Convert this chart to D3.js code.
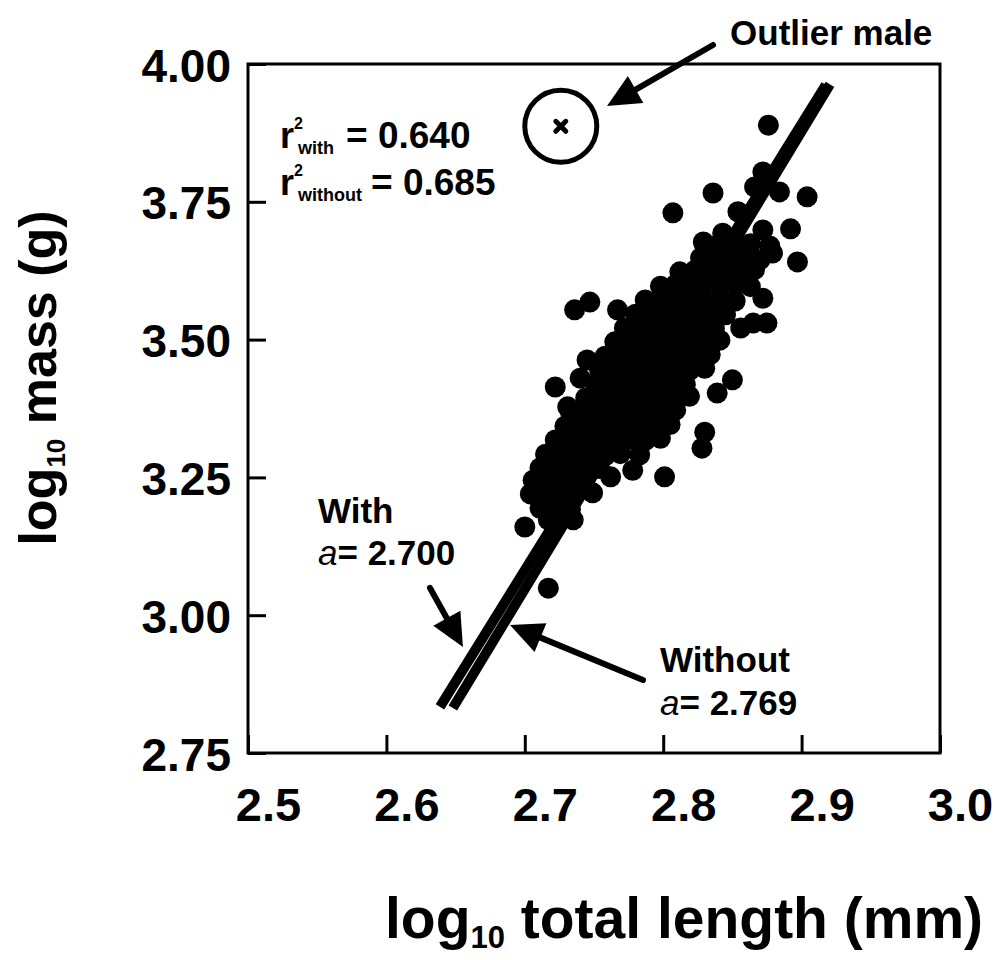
<!DOCTYPE html>
<html><head><meta charset="utf-8">
<script src="https://cdn.jsdelivr.net/npm/d3@7"></script>
<style>
html,body{margin:0;padding:0;background:#fff;}
svg text{font-family:"Liberation Sans",Arial,Helvetica,sans-serif;font-weight:bold;fill:#000;}
</style></head>
<body>
<svg id="chart" width="994" height="960"></svg>
<script>
// ---- data (log10 total length mm, log10 mass g) ----
const xTickValues = [2.5, 2.6, 2.7, 2.8, 2.9, 3.0];
const xTickLabels = ["2.5", "2.6", "2.7", "2.8", "2.9", "3.0"];
const yTickValues = [2.75, 3.00, 3.25, 3.50, 3.75, 4.00];
const yTickLabels = ["2.75", "3.00", "3.25", "3.50", "3.75", "4.00"];

const fishPoints = [
  [2.876,3.889],[2.872,3.804],[2.866,3.777],[2.884,3.768],[2.904,3.759],[2.836,3.766],[2.807,3.730],[2.854,3.732],
  [2.829,3.677],[2.843,3.693],[2.872,3.699],[2.892,3.701],
  [2.830,3.670],[2.841,3.675],[2.852,3.668],[2.863,3.674],[2.877,3.670],[2.879,3.657],
  [2.827,3.648],[2.837,3.652],[2.848,3.646],[2.859,3.650],[2.870,3.645],[2.897,3.641],
  [2.812,3.623],[2.823,3.626],[2.834,3.620],[2.845,3.625],[2.856,3.621],[2.866,3.627],
  [2.798,3.597],[2.809,3.600],[2.819,3.594],[2.830,3.598],[2.841,3.595],[2.852,3.600],[2.863,3.596],
  [2.787,3.572],[2.798,3.575],[2.809,3.570],[2.819,3.574],[2.830,3.569],[2.841,3.573],[2.852,3.570],[2.872,3.575],[2.736,3.554],[2.747,3.568],
  [2.780,3.546],[2.791,3.549],[2.801,3.544],[2.812,3.548],[2.823,3.543],[2.834,3.547],[2.845,3.545],[2.767,3.554],
  [2.772,3.521],[2.783,3.524],[2.794,3.519],[2.805,3.523],[2.816,3.518],[2.827,3.522],[2.837,3.520],[2.856,3.521],[2.865,3.530],[2.875,3.530],
  [2.765,3.496],[2.776,3.499],[2.787,3.494],[2.798,3.498],[2.809,3.493],[2.819,3.497],[2.830,3.495],[2.841,3.499],
  [2.758,3.470],[2.769,3.473],[2.780,3.468],[2.791,3.472],[2.801,3.467],[2.812,3.471],[2.823,3.469],[2.834,3.473],[2.745,3.463],
  [2.754,3.445],[2.765,3.448],[2.776,3.443],[2.787,3.447],[2.798,3.442],[2.809,3.446],[2.819,3.444],[2.830,3.448],
  [2.751,3.419],[2.762,3.422],[2.772,3.417],[2.783,3.421],[2.794,3.416],[2.805,3.420],[2.816,3.418],[2.839,3.403],[2.850,3.427],[2.722,3.414],[2.740,3.430],
  [2.744,3.394],[2.754,3.397],[2.765,3.392],[2.776,3.396],[2.787,3.391],[2.798,3.395],[2.809,3.393],[2.819,3.397],
  [2.733,3.369],[2.744,3.372],[2.754,3.367],[2.765,3.371],[2.776,3.366],[2.787,3.370],[2.798,3.368],[2.809,3.372],[2.731,3.378],
  [2.729,3.343],[2.740,3.346],[2.751,3.341],[2.762,3.345],[2.772,3.340],[2.783,3.344],[2.794,3.342],[2.805,3.346],[2.830,3.332],
  [2.722,3.318],[2.733,3.321],[2.744,3.316],[2.754,3.320],[2.765,3.315],[2.776,3.319],[2.787,3.317],[2.798,3.321],
  [2.715,3.292],[2.725,3.295],[2.736,3.290],[2.747,3.294],[2.758,3.289],[2.769,3.293],[2.783,3.291],[2.828,3.303],
  [2.711,3.267],[2.722,3.270],[2.733,3.265],[2.744,3.269],[2.754,3.266],[2.778,3.263],[2.801,3.251],
  [2.706,3.245],[2.717,3.248],[2.728,3.243],[2.738,3.247],[2.762,3.251],
  [2.704,3.220],[2.711,3.223],[2.722,3.218],[2.733,3.222],[2.749,3.222],
  [2.711,3.194],[2.722,3.197],[2.733,3.192],
  [2.717,3.173],[2.735,3.173],
  [2.700,3.160],[2.717,3.049]
];

const outlierMale = [2.726, 3.887];

// regression lines: [start, end] in data units
const lineWith    = [[2.6387, 2.8335], [2.9175, 3.9620]];
const lineWithout = [[2.6480, 2.8317], [2.9205, 3.9630]];

// annotation arrows: [from, tip] in data units
const arrowOutlier = [[2.836, 4.0345], [2.7594, 3.9238]];
const arrowWith    = [[2.6315, 3.0494], [2.6553, 2.9423]];
const arrowWithout = [[2.7854, 2.8824], [2.6893, 2.9822]];

const r2With = "0.640", r2Without = "0.685";
const slopeWith = "2.700", slopeWithout = "2.769";

// ---- layout ----
const svg = d3.select("#chart");
const x = d3.scaleLinear().domain([2.5, 3.0]).range([248, 940]);
const y = d3.scaleLinear().domain([2.75, 4.0]).range([753, 64]);

// frame
svg.append("rect")
  .attr("x", x(2.5)).attr("y", y(4.0))
  .attr("width", x(3.0) - x(2.5)).attr("height", y(2.75) - y(4.0))
  .attr("fill", "none").attr("stroke", "#000").attr("stroke-width", 3);

// x axis
const gx = svg.append("g").attr("transform", `translate(0,${y(2.75)})`)
  .call(d3.axisBottom(x).tickValues(xTickValues).tickSize(-18).tickSizeOuter(0)
        .tickFormat((d, i) => xTickLabels[i]));
gx.select(".domain").remove();
gx.selectAll(".tick line").attr("stroke", "#000").attr("stroke-width", 3);
gx.selectAll(".tick text").attr("dy", null).attr("y", 68).attr("x", 20)
  .style("font-size", "47px").attr("fill", "#000");

// y axis
const gy = svg.append("g").attr("transform", `translate(${x(2.5)},0)`)
  .call(d3.axisLeft(y).tickValues(yTickValues).tickSize(-18).tickSizeOuter(0)
        .tickFormat((d, i) => yTickLabels[i]));
gy.select(".domain").remove();
gy.selectAll(".tick line").attr("stroke", "#000").attr("stroke-width", 3);
gy.selectAll(".tick text").attr("dy", null).attr("y", 17).attr("x", -17)
  .attr("text-anchor", "end").style("font-size", "46px").attr("fill", "#000");

// points
svg.append("g").selectAll("circle").data(fishPoints).join("circle")
  .attr("cx", d => x(d[0])).attr("cy", d => y(d[1])).attr("r", 10.5).attr("fill", "#000");

// regression lines
[lineWith, lineWithout].forEach(l => {
  svg.append("line")
    .attr("x1", x(l[0][0])).attr("y1", y(l[0][1]))
    .attr("x2", x(l[1][0])).attr("y2", y(l[1][1]))
    .attr("stroke", "#000").attr("stroke-width", 10).attr("stroke-linecap", "butt");
});

// outlier
const ox = x(outlierMale[0]), oy = y(outlierMale[1]);
svg.append("circle").attr("cx", ox).attr("cy", oy).attr("r", 36)
  .attr("fill", "none").attr("stroke", "#000").attr("stroke-width", 5);
svg.append("path").attr("d", `M${ox-5},${oy-5}L${ox+5},${oy+5}M${ox+5},${oy-5}L${ox-5},${oy+5}`)
  .attr("stroke", "#000").attr("stroke-width", 5).attr("stroke-linecap", "round");

// arrows
function arrow(a) {
  const x0 = x(a[0][0]), y0 = y(a[0][1]), x1 = x(a[1][0]), y1 = y(a[1][1]);
  const dx = x1 - x0, dy = y1 - y0, L = Math.hypot(dx, dy), ux = dx / L, uy = dy / L;
  const hl = 33, hw = 15.5;
  const bx = x1 - ux * hl, by = y1 - uy * hl;
  svg.append("line").attr("x1", x0).attr("y1", y0).attr("x2", bx + ux * 2).attr("y2", by + uy * 2)
    .attr("stroke", "#000").attr("stroke-width", 6).attr("stroke-linecap", "round");
  svg.append("path")
    .attr("d", `M${x1},${y1}L${bx - uy * hw},${by + ux * hw}L${bx + uy * hw},${by - ux * hw}Z`)
    .attr("fill", "#000");
}
[arrowOutlier, arrowWith, arrowWithout].forEach(arrow);

// annotation text
svg.append("text").attr("x", x(2.8483)).attr("y", y(4.0345)).style("font-size", "35px").text("Outlier male");

function r2Label(px, py, sub, val, eqX) {
  const t = svg.append("text").attr("y", py);
  t.append("tspan").attr("x", px).attr("y", py).style("font-size", "36px").text("r");
  t.append("tspan").attr("x", px + 14).attr("y", py - 19).style("font-size", "16px").text("2");
  t.append("tspan").attr("x", px + 18).attr("y", py + 6).style("font-size", "18px").text(sub);
  t.append("tspan").attr("x", eqX).attr("y", py).style("font-size", "37px").text("= " + val);
}
r2Label(x(2.5231), y(3.8476), "with", r2With, 346);
r2Label(x(2.5231), y(3.7623), "without", r2Without, 371);

function slopeLabel(px, name, py1, py2, val) {
  svg.append("text").attr("x", px).attr("y", py1).style("font-size", "35px").text(name);
  const t = svg.append("text").attr("x", px).attr("y", py2).style("font-size", "35px");
  t.append("tspan").style("font-style", "italic").style("font-weight", "normal").text("a");
  t.append("tspan").text("= " + val);
}
slopeLabel(x(2.5506), "With", y(3.1673), y(3.0911), slopeWith);
slopeLabel(x(2.7977), "Without", y(2.8970), y(2.8189), slopeWithout);

// axis titles
const xt = svg.append("text").attr("x", 385).attr("y", 938).style("font-size", "57px");
xt.append("tspan").text("log");
xt.append("tspan").attr("dy", 10).style("font-size", "31px").text("10");
xt.append("tspan").attr("dy", -10).text(" total length (mm)");

const yt = svg.append("text").attr("transform", "translate(56,378) rotate(-90)")
  .attr("text-anchor", "middle").style("font-size", "52px");
yt.append("tspan").text("log");
yt.append("tspan").attr("dy", 9).style("font-size", "26px").text("10");
yt.append("tspan").attr("dy", -9).text(" mass (g)");
</script>
</body></html>
